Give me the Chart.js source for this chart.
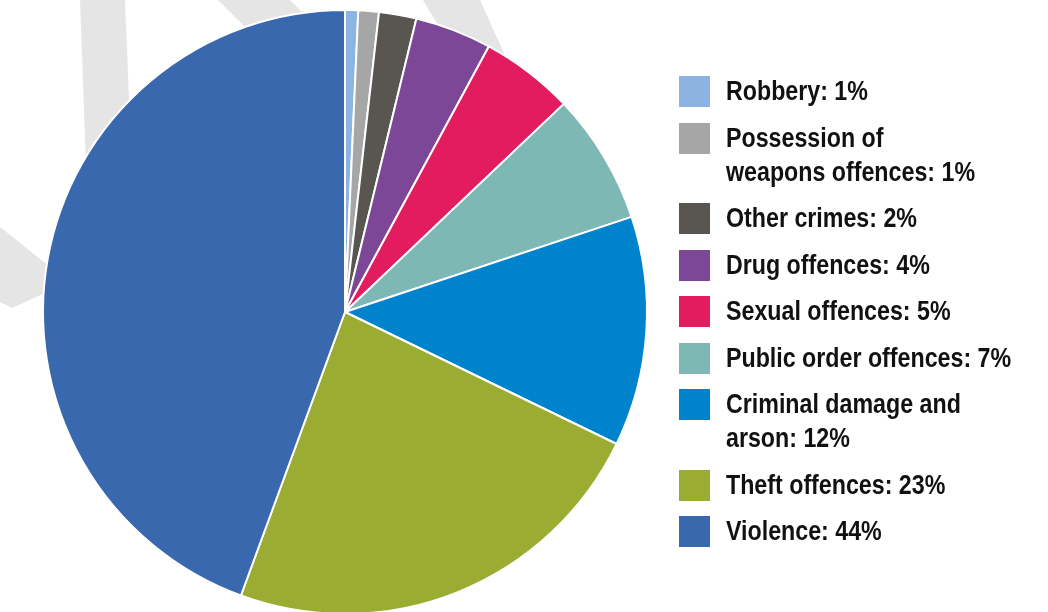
<!DOCTYPE html>
<html>
<head>
<meta charset="utf-8">
<script src="https://cdn.jsdelivr.net/npm/chart.js@4"></script>
<style>
  html, body { margin: 0; padding: 0; background: #fff; width: 1048px; height: 612px; overflow: hidden; }
  #wrap { position: absolute; left: 0; top: 0; width: 690px; height: 624px; }
  #legend { position: absolute; left: 679px; top: 76px; margin: 0; padding: 0; list-style: none;
            font-family: "Liberation Sans", sans-serif; font-weight: bold;
            font-size: 27px; line-height: 34px; color: #111; white-space: nowrap; }
  #legend li { display: flex; align-items: flex-start; margin-bottom: 12.5px; }
  #legend .sw { width: 31px; height: 31px; flex: none; margin-right: 16px; margin-top: 0; }
  #legend .tx { display: inline-block; position: relative; top: -2px; transform: scaleX(0.86); transform-origin: 0 0; }
</style>
</head>
<body>
<div id="wrap"><canvas id="crimeChart"></canvas></div>
<ul id="legend"></ul>
<script>
// Categorías y porcentajes
const categorias = ['Robbery', 'Possession of|weapons offences', 'Other crimes', 'Drug offences',
  'Sexual offences', 'Public order offences', 'Criminal damage and|arson', 'Theft offences', 'Violence'];
const valores = [0.7, 1.1, 2.0, 4.1, 5.0, 7.0, 12.3, 23.4, 44.4];
const etiquetasPct = ['1%', '1%', '2%', '4%', '5%', '7%', '12%', '23%', '44%'];
const colores = ['#8db3e2', '#a6a6a6', '#595550', '#7b4796', '#e31b5f',
  '#7db8b5', '#0083cd', '#9aad32', '#3a68ae'];

// Marca de agua gris del fondo
const fondoPlugin = {
  id: 'fondo',
  beforeDraw(chart) {
    const c = chart.ctx;
    const formas = [
      [[80, 0], [125, 0], [134, 220], [88, 220]],
      [[218, 0], [290, 0], [340, 50], [268, 50]],
      [[423, 0], [480, 0], [525, 100], [482, 100]],
      [[0, 227], [69, 282], [12, 308], [0, 302]]
    ];
    c.save();
    c.fillStyle = '#e5e5e5';
    formas.forEach(f => {
      c.beginPath();
      f.forEach((p, i) => i ? c.lineTo(p[0], p[1]) : c.moveTo(p[0], p[1]));
      c.closePath();
      c.fill();
    });
    c.restore();
  }
};

document.addEventListener('DOMContentLoaded', function() {
  const ctx = document.getElementById('crimeChart').getContext('2d');
  const chart = new Chart(ctx, {
    type: 'pie',
    data: {
      labels: categorias.map(c => c.replace('|', ' ')),
      datasets: [{
        data: valores,
        backgroundColor: colores,
        borderColor: '#ffffff',
        borderWidth: 2
      }]
    },
    options: {
      responsive: true,
      maintainAspectRatio: false,
      animation: false,
      layout: { padding: 9 },
      plugins: {
        legend: { display: false },
        tooltip: { enabled: false }
      }
    },
    plugins: [fondoPlugin]
  });

  // Leyenda en HTML
  const ul = document.getElementById('legend');
  categorias.forEach((cat, i) => {
    const li = document.createElement('li');
    const sw = document.createElement('span');
    sw.className = 'sw';
    sw.style.background = colores[i];
    const txt = document.createElement('span');
    txt.className = 'tx';
    txt.innerHTML = (cat + ': ' + etiquetasPct[i]).replace('|', '<br>');
    li.appendChild(sw);
    li.appendChild(txt);
    ul.appendChild(li);
  });
});
</script>
</body>
</html>
